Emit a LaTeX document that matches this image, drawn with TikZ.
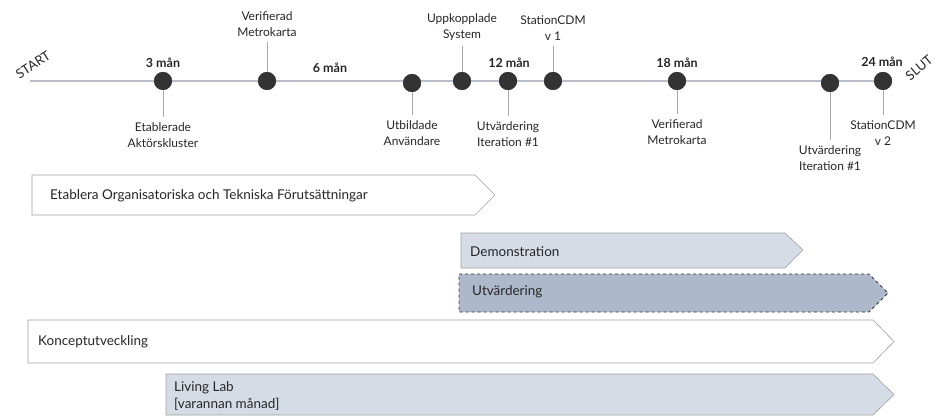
\documentclass[tikz,border=0pt]{standalone}
\usepackage{fontspec}
\setmainfont{Lato}
\definecolor{tl}{HTML}{B8BFCA}
\definecolor{dotc}{HTML}{333333}
\definecolor{tick}{HTML}{A8A8A8}
\definecolor{txt}{HTML}{262626}
\definecolor{barline}{HTML}{A0A0A0}
\definecolor{lightfill}{HTML}{D6DCE5}
\definecolor{darkfill}{HTML}{ADB9CA}
\begin{document}
\begin{tikzpicture}[x=1pt,y=-1pt,
  every node/.style={text=txt,font=\fontsize{12}{16}\selectfont},
  ms/.style={circle,fill=dotc,minimum size=18pt,inner sep=0pt},
  lbl/.style={align=center,inner sep=5pt},
  mon/.style={font=\fontsize{12.5}{14}\selectfont\bfseries},
  tickln/.style={draw=tick,line width=0.9pt},
  bar/.style={draw=barline,line width=0.6pt},
  bartext/.style={anchor=west,align=left,inner sep=0pt,font=\fontsize{13.5}{17}\selectfont},
  endtext/.style={font=\fontsize{13}{16}\selectfont,inner sep=1pt}]
\useasboundingbox (0,0) rectangle (937,417);
% timeline
\coordinate (s) at (30,81);
\coordinate (e) at (883,81);
\draw[tl,line width=1.2pt] (s) -- (e);
\node[endtext,rotate=33] (start) at (33,65) {START};
\node[endtext,rotate=40] (slut) at (919,68) {SLUT};
% milestones
\node[ms] (m1) at (163,81) {};
\node[ms] (m2) at (267,81) {};
\node[ms] (m3) at (412,83) {};
\node[ms] (m4) at (462,81) {};
\node[ms] (m5) at (508,81) {};
\node[ms] (m6) at (553,81) {};
\node[ms] (m7) at (677,81) {};
\node[ms] (m8) at (830,83) {};
\node[ms] (m9) at (883,81) {};
% labels
\node[lbl] (l1) at (163,135) {Etablerade\\Aktörskluster};
\node[lbl] (l2) at (267,24) {Verifierad\\Metrokarta};
\node[lbl] (l3) at (412,133) {Utbildade\\Användare};
\node[lbl] (l4) at (462,27) {Uppkopplade\\System};
\node[lbl] (l5) at (508,134) {Utvärdering\\Iteration \#1};
\node[lbl] (l6) at (553,28) {StationCDM\\v 1};
\node[lbl] (l7) at (677,132) {Verifierad\\Metrokarta};
\node[lbl] (l8) at (830,158) {Utvärdering\\Iteration \#1};
\node[lbl] (l9) at (883,133) {StationCDM\\v 2};
\draw[tickln] (m1.center) -- (l1.north);
\draw[tickln] (m2.center) -- (l2.south);
\draw[tickln] (m3.center) -- (l3.north);
\draw[tickln] (m4.center) -- (l4.south);
\draw[tickln] (m5.center) -- (l5.north);
\draw[tickln] (m6.center) -- (l6.south);
\draw[tickln] (m7.center) -- (l7.north);
\draw[tickln] (m8.center) -- (l8.north);
\draw[tickln] (m9.center) -- (l9.north);
\foreach \m in {m1,m2,m3,m4,m5,m6,m7,m8,m9}{\node[ms] at (\m) {};}
% month labels
\node[mon] (t3) at (163,63) {3 mån};
\node[mon] (t6) at (330,68) {6 mån};
\node[mon] (t12) at (509,63) {12 mån};
\node[mon] (t18) at (677,63) {18 mån};
\node[mon] (t24) at (882,62) {24 mån};
% bars
\draw[bar,fill=white] (32,175) -- (475,175) -- (495,195) -- (475,215) -- (32,215) -- cycle;
\node[bartext] (b1) at (50,196) {Etablera Organisatoriska och Tekniska Förutsättningar};
\draw[bar,fill=lightfill] (461,233) -- (785,233) -- (803,250) -- (785,268) -- (461,268) -- cycle;
\node[bartext] (b2) at (470,252) {Demonstration};
\draw[draw=dotc,line width=0.8pt,dashed,fill=darkfill] (459,274) -- (869,274) -- (888,293) -- (869,312) -- (459,312) -- cycle;
\node[bartext] (b3) at (472,292) {Utvärdering};
\draw[bar,fill=white] (28,320) -- (873,320) -- (894,341.5) -- (873,363) -- (28,363) -- cycle;
\node[bartext] (b4) at (38,342) {Konceptutveckling};
\draw[bar,fill=lightfill] (166,374) -- (873,374) -- (894,394.5) -- (873,415) -- (166,415) -- cycle;
\node[bartext] (b5) at (174,396) {Living Lab\\{[varannan månad]}};
\end{tikzpicture}
\end{document}
